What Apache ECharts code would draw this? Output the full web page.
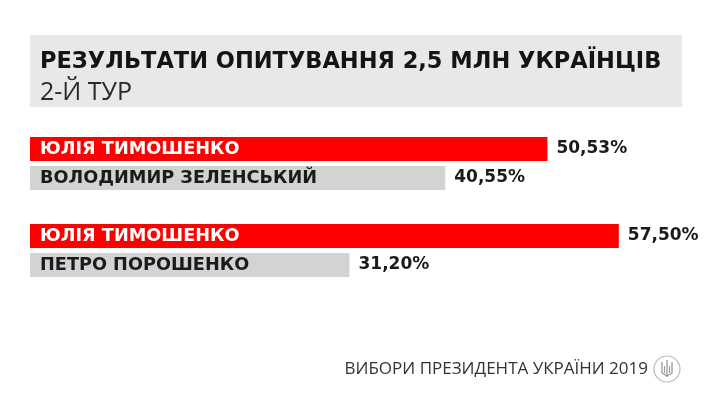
<!DOCTYPE html>
<html><head><meta charset="utf-8">
<script src="https://cdn.jsdelivr.net/npm/echarts@6/dist/echarts.min.js"></script>
<style>html,body{margin:0;padding:0;background:#fff}#c{width:712px;height:400px}</style>
</head><body><div id="c"></div>
<script>
const categories = ['ЮЛІЯ ТИМОШЕНКО', 'ВОЛОДИМИР ЗЕЛЕНСЬКИЙ', '', 'ЮЛІЯ ТИМОШЕНКО', 'ПЕТРО ПОРОШЕНКО'];
const values = [50.53, 40.55, null, 57.50, 31.20];
const kinds = ['red', 'gray', null, 'red', 'gray'];
const titleText = 'РЕЗУЛЬТАТИ ОПИТУВАННЯ 2,5 МЛН УКРАЇНЦІВ';
const subtitleText = '2-Й ТУР';
const footerText = 'ВИБОРИ ПРЕЗИДЕНТА УКРАЇНИ 2019';

const fill = {red: '#fe0000', gray: '#d3d3d3'};
const nameColor = {red: '#ffffff', gray: '#1b1b1b'};
const boldFont = '"DejaVu Sans", sans-serif';
const lightFont = '"Open Sans", sans-serif';

const chart = echarts.init(document.getElementById('c'), null, {renderer: 'canvas'});
const fmt = v => v.toFixed(2).replace('.', ',') + '%';

chart.setOption({
  backgroundColor: '#ffffff',
  animation: false,
  grid: {left: 30, right: 67.6, top: 134.5, bottom: 120.5},
  xAxis: {type: 'value', min: 0, max: 60, show: false},
  yAxis: {type: 'category', data: categories, inverse: true, show: false},
  series: [
    {
      type: 'bar', barWidth: 24, barGap: '-100%',
      data: values.map((v, i) => v == null ? '-' : {
        value: v,
        itemStyle: {color: fill[kinds[i]]},
        label: {color: nameColor[kinds[i]]}
      }),
      label: {show: true, position: 'insideLeft', distance: 10, formatter: p => p.name,
        fontFamily: boldFont, fontWeight: 'bold', fontSize: 17.7}
    },
    {
      type: 'bar', barWidth: 24,
      data: values.map(v => v == null ? '-' : v),
      itemStyle: {color: 'rgba(0,0,0,0)'},
      label: {show: true, position: 'right', distance: 9, formatter: p => fmt(p.value),
        fontFamily: boldFont, fontWeight: 'bold', fontSize: 17, color: '#1b1b1b'},
      silent: true
    }
  ],
  graphic: [
    {type: 'rect', shape: {x: 30, y: 35, width: 652, height: 72}, style: {fill: '#e8e8e8'}, z: -1},
    {type: 'text', x: 40, y: 62, style: {text: titleText, fontFamily: boldFont, fontWeight: 'bold', fontSize: 22.5,
      fill: '#141414', verticalAlign: 'middle'}},
    {type: 'text', x: 40, y: 93, style: {text: subtitleText, fontFamily: lightFont, fontWeight: 'normal', fontSize: 25,
      fill: '#2a2a2a', verticalAlign: 'middle'}},
    {type: 'text', x: 648, y: 369, style: {text: footerText, fontFamily: lightFont, fontSize: 17,
      fill: '#333', align: 'right', verticalAlign: 'middle'}},
    {type: 'circle', shape: {cx: 667, cy: 369, r: 13}, style: {fill: '#fff', stroke: '#bbb', lineWidth: 1.2}},
    {type: 'line', shape: {x1: 667, y1: 360, x2: 667, y2: 377}, style: {stroke: '#999', lineWidth: 1.3}},
    {type: 'polyline', shape: {points: [[662, 362], [662, 373], [667, 376], [672, 373], [672, 362]]},
      style: {fill: 'none', stroke: '#999', lineWidth: 1.3}},
    {type: 'line', shape: {x1: 664.5, y1: 366, x2: 664.5, y2: 373}, style: {stroke: '#999', lineWidth: 1.1}},
    {type: 'line', shape: {x1: 669.5, y1: 366, x2: 669.5, y2: 373}, style: {stroke: '#999', lineWidth: 1.1}}
  ]
});
</script></body></html>
